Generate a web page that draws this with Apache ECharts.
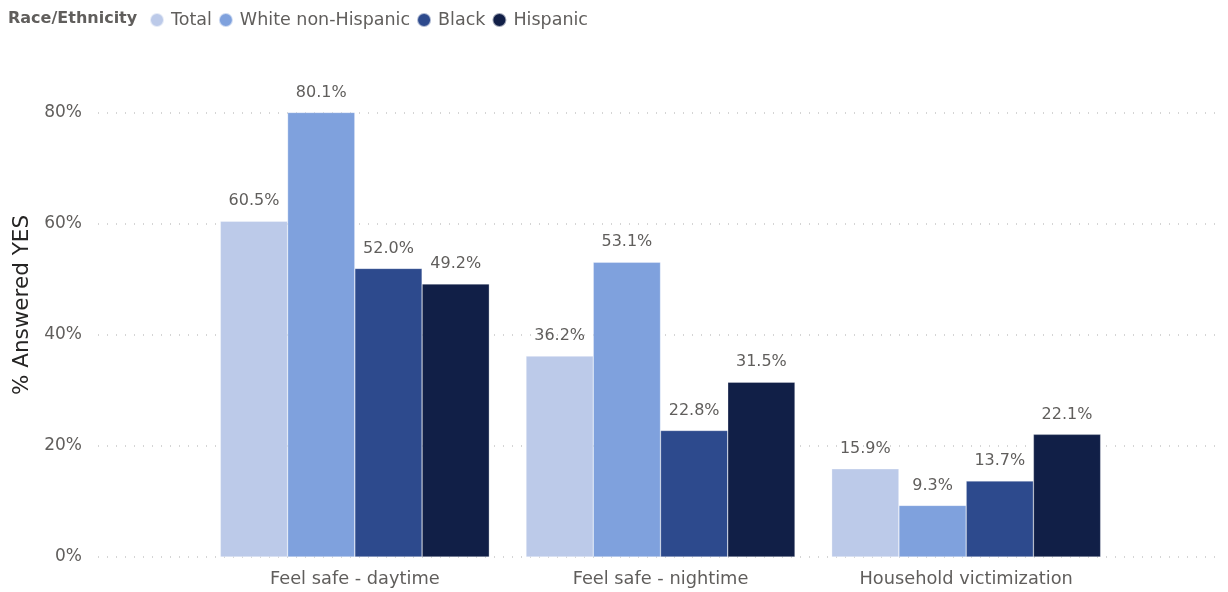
<!DOCTYPE html>
<html><head><meta charset="utf-8">
<script src="https://cdn.jsdelivr.net/npm/echarts@6/dist/echarts.min.js"></script>
<style>html,body{margin:0;padding:0;background:#fff}#c{width:1228px;height:592px}</style>
</head><body><div id="c"></div>
<script>
const categories = ['Feel safe - daytime', 'Feel safe - nightime', 'Household victimization'];
const seriesNames = ['Total', 'White non-Hispanic', 'Black', 'Hispanic'];
const totalVals = [60.5, 36.2, 15.9];
const whiteVals = [80.1, 53.1, 9.3];
const blackVals = [52.0, 22.8, 13.7];
const hispanicVals = [49.2, 31.5, 22.1];
const colors = ['#BCCAE9', '#7FA1DD', '#2D4A8D', '#111F47'];
const yTicks = [0, 20, 40, 60, 80];

const FONT = 'DejaVu Sans';
const chart = echarts.init(document.getElementById('c'));
const allVals = [totalVals, whiteVals, blackVals, hispanicVals];
chart.setOption({
  animation: false,
  textStyle: {fontFamily: FONT},
  title: {text: 'Race/Ethnicity', left: 8, top: 11, padding: 0,
    textStyle: {fontFamily: FONT, fontSize: 16, fontWeight: 'bold', color: '#605E5C'}},
  legend: {left: 144, top: 6, icon: 'circle', itemWidth: 14, itemHeight: 14, itemGap: 6,
    data: seriesNames,
    textStyle: {fontFamily: FONT, fontSize: 17.5, color: '#605E5C', padding: [0,0,0,2]}},
  graphic: [{type: 'text', x: 22, y: 305, rotation: Math.PI / 2,
    style: {text: '% Answered YES', fontFamily: FONT, fontSize: 21.5, fill: '#252423',
      textAlign: 'center', textVerticalAlign: 'middle'}}],
  grid: [
    {left: 202, right: 109, top: 113, bottom: 35},
    {left: 98, right: 8, top: 113, bottom: 35}
  ],
  xAxis: [
    {type: 'category', gridIndex: 0, data: categories,
      axisLine: {show: false}, axisTick: {show: false},
      axisLabel: {fontFamily: FONT, fontSize: 17.8, color: '#605E5C', margin: 13}},
    {type: 'value', gridIndex: 1, show: false, min: 0, max: 1}
  ],
  yAxis: [
    {type: 'value', gridIndex: 0, min: 0, max: 80, interval: 20, show: false},
    {type: 'value', gridIndex: 1, min: 0, max: 80, interval: 20,
      axisLine: {show: false}, axisTick: {show: false},
      axisLabel: {fontFamily: FONT, fontSize: 17, color: '#605E5C', margin: 16,
        formatter: v => v + '%'},
      splitLine: {lineStyle: {type: [1, 8], color: '#C8C8C8', width: 1.5}}}
  ],
  series: seriesNames.map((n, i) => ({
    name: n, type: 'bar', xAxisIndex: 0, yAxisIndex: 0,
    data: allVals[i], barGap: '0%', barCategoryGap: '12%', clip: false,
    itemStyle: {color: colors[i], borderColor: 'rgba(255,255,255,0.6)', borderWidth: 0.5},
    label: {show: true, position: 'top', distance: 12, fontFamily: FONT, fontSize: 16,
      color: '#605E5C', formatter: p => p.value.toFixed(1) + '%'}
  }))
});
</script></body></html>
